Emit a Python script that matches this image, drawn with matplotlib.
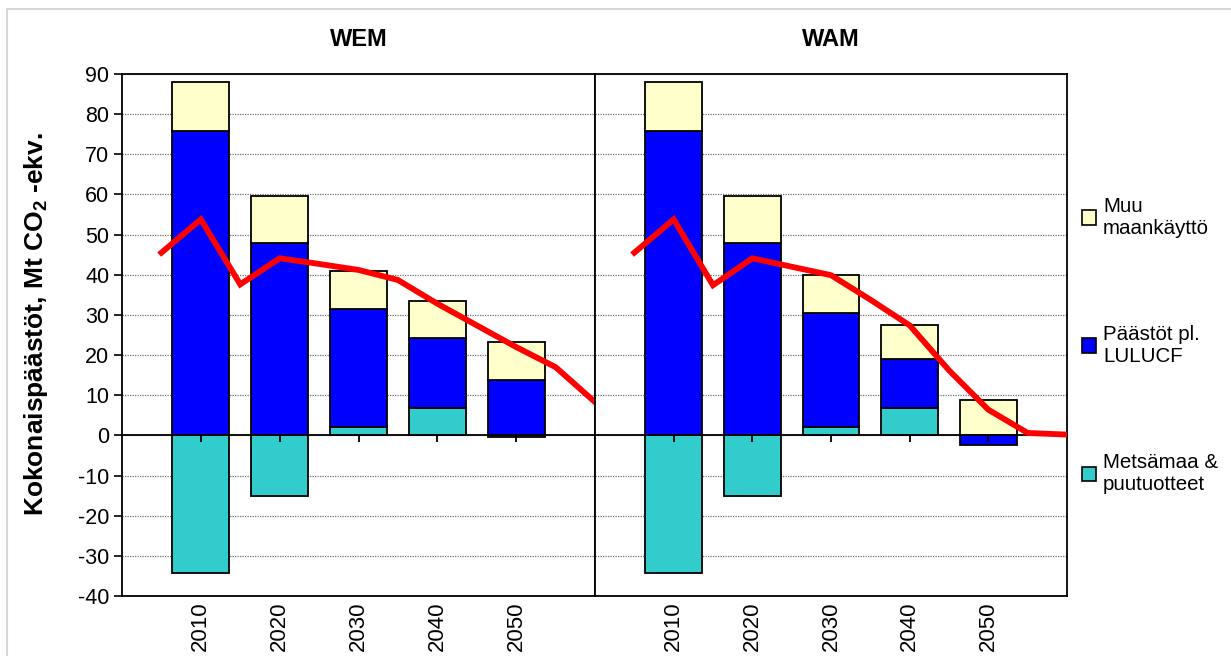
import numpy as np
import matplotlib
matplotlib.use('Agg')
import matplotlib.pyplot as plt
from matplotlib.patches import Patch, Rectangle

plt.rcParams['font.family'] = ['Liberation Sans', 'DejaVu Sans']
plt.rcParams['mathtext.fontset'] = 'custom'
plt.rcParams['mathtext.rm'] = 'Liberation Sans'
plt.rcParams['mathtext.bf'] = 'Liberation Sans:bold'
plt.rcParams['axes.unicode_minus'] = False

# data
years = ['2010', '2020', '2030', '2040', '2050']
wem_metsa = [-34.2, -15.2, 2.0, 6.7, -0.5]
wem_paastot = [75.8, 47.9, 29.4, 17.5, 13.7]
wem_muu = [12.2, 11.7, 9.5, 9.2, 9.5]
wam_metsa = [-34.2, -15.2, 2.1, 6.8, 0.0]
wam_paastot = [75.8, 47.9, 28.3, 12.1, -2.4]
wam_muu = [12.2, 11.7, 9.5, 8.6, 8.7]

line_years = [2005, 2010, 2015, 2020, 2025, 2030, 2035, 2040, 2045, 2050, 2055, 2060]
wem_total = [45.5, 53.8, 37.6, 44.1, 42.7, 41.2, 38.7, 32.8, 27.4, 22.0, 17.0, 8.3]
wam_total = [45.5, 53.8, 37.4, 44.1, 42.0, 39.9, 33.8, 27.4, 16.2, 6.4, 0.6, 0.2]

labels = ['Muu\nmaankäyttö', 'Päästöt pl.\nLULUCF', 'Metsämaa &\npuutuotteet']
col_muu = '#FFFFCC'
col_paastot = '#0000FF'
col_metsa = '#33CCCC'

fig = plt.figure(figsize=(12.31, 6.56), dpi=100)
ax1 = fig.add_axes([122 / 1231, 1 - 596 / 656, 473 / 1231, 522 / 656])
ax2 = fig.add_axes([595 / 1231, 1 - 596 / 656, 472 / 1231, 522 / 656])

def to_x(y):
    return (int(y) - 2000) / 10

def draw_panel(ax, title, metsa, paastot, muu, total):
    x = np.array([to_x(y) for y in years])
    pos = np.zeros(len(x))
    neg = np.zeros(len(x))
    for vals, c in [(metsa, col_metsa), (paastot, col_paastot), (muu, col_muu)]:
        vals = np.array(vals)
        bottom = np.where(vals >= 0, pos, neg)
        ax.bar(x, vals, 0.72, bottom=bottom, color=c, edgecolor='black',
               linewidth=1.3, zorder=3)
        pos = pos + np.where(vals >= 0, vals, 0)
        neg = neg + np.where(vals < 0, vals, 0)
    ax.plot([to_x(y) for y in line_years], total, color='#FF0000', lw=4.2,
            solid_joinstyle='miter', zorder=6)

    ax.set_xlim(0, 6)
    ax.set_ylim(-40, 90)
    ax.set_yticks(range(-40, 91, 10))
    ax.yaxis.grid(True, linestyle=(0, (1, 1)), color='#707070', lw=0.9, zorder=0)
    ax.set_axisbelow(True)
    ax.set_xticks(x, years, rotation=90, fontsize=16)
    ax.tick_params(axis='x', length=0, pad=4)
    for s in ax.spines.values():
        s.set_linewidth(1.3)

    # zero line with category ticks
    zero = ax.secondary_xaxis(40 / 130)
    zero.set_xticks(x, [])
    zero.xaxis.set_ticks_position('bottom')
    zero.tick_params(axis='x', direction='out', length=5, width=1.3)
    zero.spines['bottom'].set_linewidth(1.3)
    zero.set_zorder(5)

    ax.set_title(title, fontsize=17, fontweight='bold', pad=20)

draw_panel(ax1, 'WEM', wem_metsa, wem_paastot, wem_muu, wem_total)
draw_panel(ax2, 'WAM', wam_metsa, wam_paastot, wam_muu, wam_total)

ax1.tick_params(axis='y', direction='out', length=6, width=1.2, labelsize=15.5, pad=3)
ax2.tick_params(axis='y', length=0, labelleft=False)

ax1.set_ylabel(r'Kokonaispäästöt, Mt CO$_\mathbf{2}$ -ekv.', fontsize=19,
               fontweight='bold')
ax1.yaxis.set_label_coords(-0.152, 0.52)

handles = [Patch(facecolor=col_muu, edgecolor='black', lw=1.2),
           Patch(facecolor=col_paastot, edgecolor='black', lw=1.2),
           Patch(facecolor=col_metsa, edgecolor='black', lw=1.2)]
fig.legend(handles, labels, loc='upper left', bbox_to_anchor=(1063 / 1231, 1 - 178 / 656),
           frameon=False, fontsize=14.8, handlelength=0.7, handleheight=0.7,
           handletextpad=0.35, labelspacing=4.25)

fig.add_artist(Rectangle((7 / 1231, -0.1), 1.2, 1.1 - 9 / 656, transform=fig.transFigure,
                         fill=False, edgecolor='#d8d8d8', lw=1.5))

fig.savefig('out.png', dpi=100)
